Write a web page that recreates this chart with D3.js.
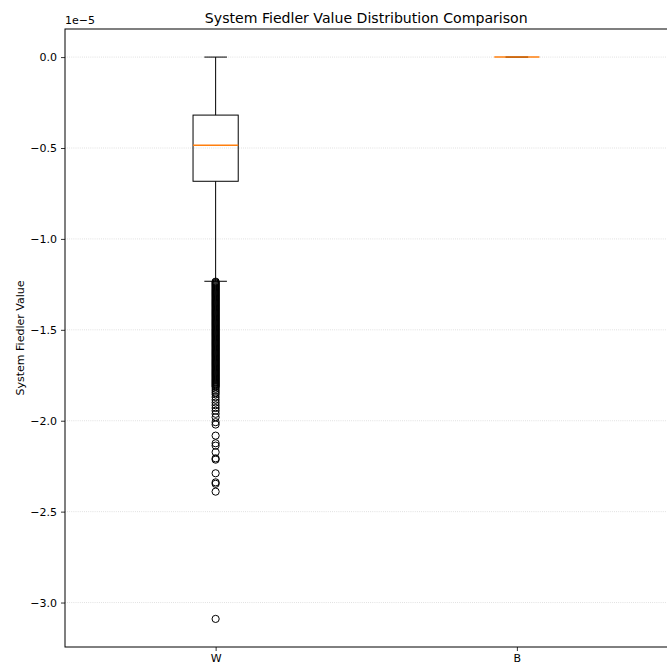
<!DOCTYPE html>
<html>
<head>
<meta charset="utf-8">
<script src="https://cdn.jsdelivr.net/npm/d3@7"></script>
<style>
  body { margin: 0; background: #fff; }
  svg { display: block; font-family: "DejaVu Sans", sans-serif; }
</style>
</head>
<body>
<svg id="chart" width="667" height="664"></svg>
<script>
// ---- data (units of 1e-5) ----
const categories = ["W", "B"];
const whiskerHigh = [0.0, 0.0];
const q3 = [-0.319, 0.0];
const median = [-0.485, 0.0];
const q1 = [-0.683, 0.0];
const whiskerLow = [-1.233, 0.0];
const outliersW = [
  -1.235,-1.240,-1.245,-1.250,-1.255,-1.260,-1.265,-1.270,-1.275,-1.280,
  -1.285,-1.290,-1.295,-1.300,-1.305,-1.310,-1.315,-1.320,-1.325,-1.330,
  -1.335,-1.340,-1.345,-1.350,-1.355,-1.360,-1.365,-1.370,-1.375,-1.380,
  -1.385,-1.390,-1.395,-1.400,-1.405,-1.410,-1.415,-1.420,-1.425,-1.430,
  -1.435,-1.440,-1.445,-1.450,-1.455,-1.460,-1.465,-1.470,-1.475,-1.480,
  -1.485,-1.490,-1.495,-1.500,-1.505,-1.510,-1.515,-1.520,-1.525,-1.530,
  -1.535,-1.540,-1.545,-1.550,-1.555,-1.560,-1.565,-1.570,-1.575,-1.580,
  -1.585,-1.590,-1.595,-1.600,-1.605,-1.610,-1.615,-1.620,-1.625,-1.630,
  -1.635,-1.640,-1.645,-1.650,-1.655,-1.660,-1.665,-1.670,-1.675,-1.680,
  -1.685,-1.690,-1.695,-1.700,-1.705,-1.710,-1.715,-1.720,-1.725,-1.730,
  -1.735,-1.740,-1.745,-1.750,-1.755,-1.760,-1.765,-1.770,-1.775,-1.780,
  -1.785,-1.790,-1.795,-1.800,-1.805,-1.810,-1.815,
  -1.825,-1.835,-1.845,-1.855,-1.87,-1.885,-1.90,-1.915,-1.93,-1.945,
  -1.962,-1.981,-2.008,-2.021,-2.082,-2.124,-2.137,-2.173,-2.207,-2.214,
  -2.289,-2.339,-2.347,-2.39,-3.09
];
const outliersB = [];
const outliers = [outliersW, outliersB];
const yTicks = [0.0, -0.5, -1.0, -1.5, -2.0, -2.5, -3.0];
const yDomain = [-3.2445, 0.1545];

// ---- layout ----
const mLeft = 65, mRight = 667.5, mTop = 29, mBottom = 647;
const svg = d3.select("#chart");

const x = d3.scalePoint().domain(categories).range([mLeft, mRight]).padding(0.5);
const y = d3.scaleLinear().domain(yDomain).range([mBottom, mTop]);
const boxW = 0.15 * x.step();
const capW = boxW / 2;

// grid
svg.append("g").selectAll("line").data(yTicks).join("line")
  .attr("x1", mLeft).attr("x2", mRight)
  .attr("y1", d => y(d)).attr("y2", d => y(d))
  .attr("stroke", "#b0b0b0").attr("stroke-opacity", 0.6)
  .attr("stroke-width", 0.8).attr("stroke-dasharray", "0.8,1.32");

// boxes
const boxes = svg.append("g").selectAll("g").data(categories).join("g");
boxes.each(function(c, i) {
  const g = d3.select(this);
  const cx = x(c);
  g.append("line").attr("x1", cx).attr("x2", cx)
    .attr("y1", y(q3[i])).attr("y2", y(whiskerHigh[i]))
    .attr("stroke", "#000").attr("stroke-width", 1);
  g.append("line").attr("x1", cx).attr("x2", cx)
    .attr("y1", y(q1[i])).attr("y2", y(whiskerLow[i]))
    .attr("stroke", "#000").attr("stroke-width", 1);
  [whiskerHigh[i], whiskerLow[i]].forEach(v => {
    g.append("line").attr("x1", cx - capW / 2).attr("x2", cx + capW / 2)
      .attr("y1", y(v)).attr("y2", y(v))
      .attr("stroke", "#000").attr("stroke-width", 1);
  });
  g.append("rect").attr("x", cx - boxW / 2).attr("width", boxW)
    .attr("y", y(q3[i])).attr("height", Math.max(0, y(q1[i]) - y(q3[i])))
    .attr("fill", "none").attr("stroke", "#000").attr("stroke-width", 1);
  g.append("line").attr("x1", cx - boxW / 2).attr("x2", cx + boxW / 2)
    .attr("y1", y(median[i])).attr("y2", y(median[i]))
    .attr("stroke", "#ff7f0e").attr("stroke-width", 1.5);
  g.append("g").selectAll("circle").data(outliers[i]).join("circle")
    .attr("cx", cx).attr("cy", d => y(d)).attr("r", 3.6)
    .attr("fill", "none").attr("stroke", "#000").attr("stroke-width", 1);
});

// axes
const yAxis = d3.axisLeft(y).tickValues(yTicks)
  .tickFormat(d => d3.format(".1f")(d).replace("-", "\u2212"))
  .tickSize(4).tickPadding(4);
const gy = svg.append("g").attr("transform", `translate(${mLeft},0)`).call(yAxis);
gy.select(".domain").remove();
gy.selectAll("text").attr("font-size", 11).attr("fill", "#000").attr("font-family", "DejaVu Sans");
gy.selectAll("line").attr("stroke", "#000").attr("stroke-width", 0.8);

const xAxis = d3.axisBottom(x).tickSize(4).tickPadding(3);
const gx = svg.append("g").attr("transform", `translate(0,${mBottom})`).call(xAxis);
gx.select(".domain").remove();
gx.selectAll("text").attr("font-size", 11).attr("fill", "#000").attr("font-family", "DejaVu Sans");
gx.selectAll("line").attr("stroke", "#000").attr("stroke-width", 0.8);

// spines
svg.append("rect").attr("x", mLeft).attr("y", mTop)
  .attr("width", mRight - mLeft).attr("height", mBottom - mTop)
  .attr("fill", "none").attr("stroke", "#000").attr("stroke-width", 1);

// offset text
svg.append("text").attr("x", mLeft).attr("y", 24)
  .attr("font-size", 11).text("1e\u22125");

// title
svg.append("text").attr("x", (mLeft + mRight) / 2).attr("y", 23)
  .attr("text-anchor", "middle").attr("font-size", 14.1)
  .text("System Fiedler Value Distribution Comparison");

// y label
svg.append("text")
  .attr("transform", `translate(24,${(mTop + mBottom) / 2}) rotate(-90)`)
  .attr("text-anchor", "middle").attr("font-size", 11)
  .text("System Fiedler Value");
</script>
</body>
</html>
